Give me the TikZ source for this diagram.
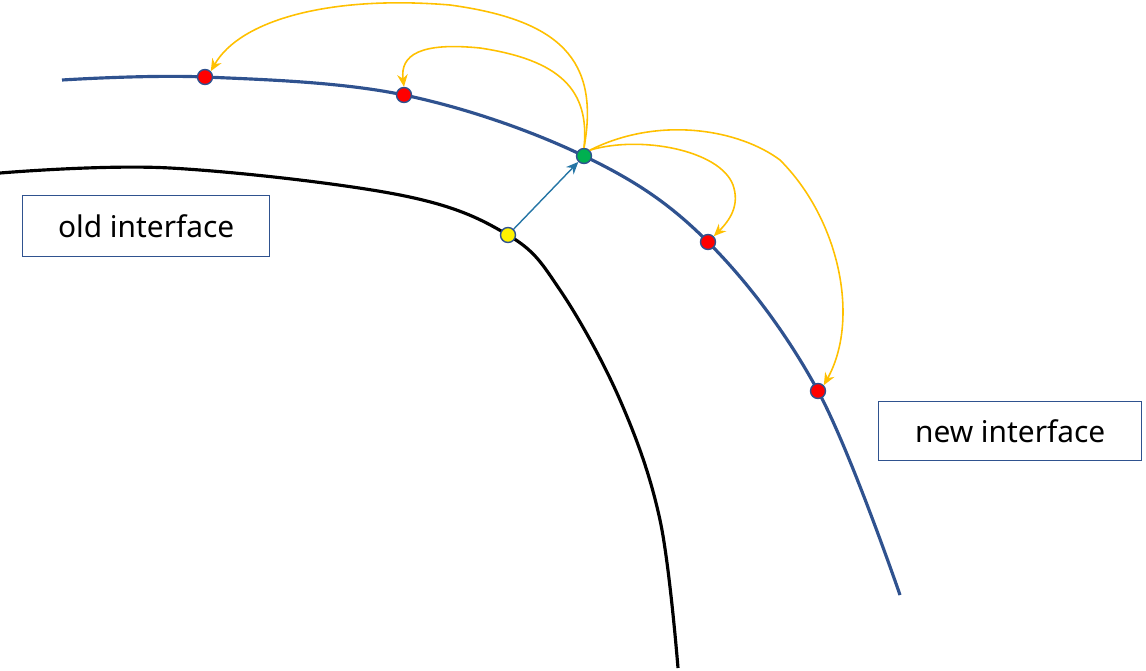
\documentclass[tikz,border=0pt]{standalone}
\usepackage{fontspec}
\setmainfont{Noto Sans}
\usetikzlibrary{arrows.meta}
\definecolor{bl}{RGB}{47,82,143}
\definecolor{yl}{RGB}{255,192,0}
\definecolor{gr}{RGB}{0,176,80}
\begin{document}
\begin{tikzpicture}[x=0.02cm,y=-0.02cm,
  dot/.style={circle,draw=bl,line width=0.8pt,inner sep=0pt,minimum size=0.3cm},
  lab/.style={draw=bl,line width=0.8pt,font=\bfseries\fontsize{17}{20}\selectfont,inner sep=0pt,anchor=north west},
  jump/.style={yl,line width=0.9pt,-{Stealth[length=7pt,width=6pt]}}]
\useasboundingbox (0,0) rectangle (1146,670);
\draw[bl,line width=1.8pt] plot[smooth,tension=0.6] coordinates{(62,80)(205,77)(404,95)(584,156)(708,242)(818,391)(900,595)};
\draw[black,line width=1.8pt] plot[smooth,tension=0.6] coordinates{(0,173)(170,168)(400,195)(508,235)(560,290)(620,400)(660,520)(678,668)};
\node[lab,minimum width=4.94cm,minimum height=1.22cm] (old) at (22,195) {old interface};
\node[lab,minimum width=5.26cm,minimum height=1.18cm] (new) at (878,401) {new interface};
\node[dot,fill=red] (r1) at (205,77) {};
\node[dot,fill=red] (r2) at (404,95) {};
\node[dot,fill=red] (r3) at (708,242) {};
\node[dot,fill=red] (r4) at (818,391) {};
\node[dot,fill=gr] (g) at (584,156) {};
\node[dot,fill=yellow] (y) at (508,235) {};
\draw[bl!80!cyan,line width=0.8pt,-{Stealth[length=7pt,width=6pt]}] (y) -- (g);
\draw[jump] (g.north) .. controls (600,60) and (560,20) .. (450,5) .. controls (330,-5) and (240,20) .. (r1.north east);
\draw[jump] (g.north) .. controls (590,90) and (560,60) .. (480,48) .. controls (420,42) and (400,55) .. (r2.north);
\draw[jump] (g.north east) .. controls (640,135) and (720,150) .. (733,185) .. controls (740,205) and (730,220) .. (r3.north east);
\draw[jump] (g.north east) .. controls (660,115) and (740,130) .. (780,160) .. controls (840,220) and (860,320) .. (r4.north east);
\end{tikzpicture}
\end{document}
